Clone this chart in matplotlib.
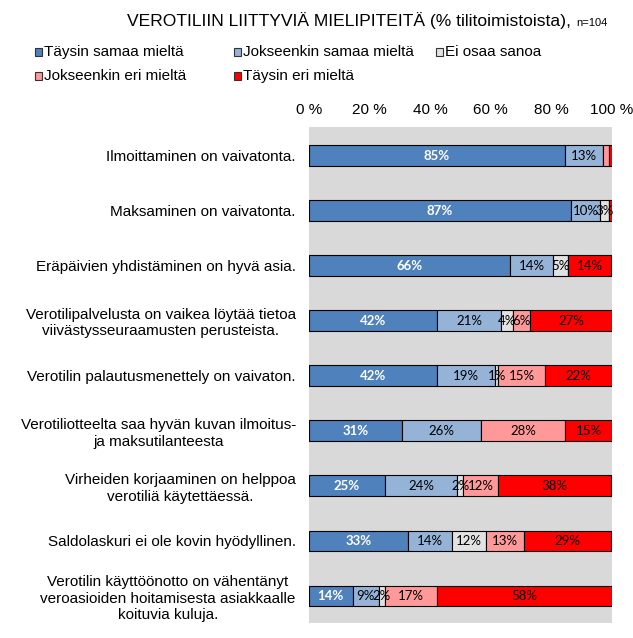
import matplotlib.pyplot as plt
import numpy as np
from matplotlib.patches import Rectangle

# väittämät (ylhäältä alas)
statements = [
    "Ilmoittaminen on vaivatonta.",
    "Maksaminen on vaivatonta.",
    "Eräpäivien yhdistäminen on hyvä asia.",
    "Verotilipalvelusta on vaikea löytää tietoa\nviivästysseuraamusten perusteista.",
    "Verotilin palautusmenettely on vaivaton.",
    "Verotiliotteelta saa hyvän kuvan ilmoitus-\nja maksutilanteesta",
    "Virheiden korjaaminen on helppoa\nverotiliä käytettäessä.",
    "Saldolaskuri ei ole kovin hyödyllinen.",
    "Verotilin käyttöönotto on vähentänyt\nveroasioiden hoitamisesta asiakkaalle\nkoituvia kuluja.",
]

# % tilitoimistoista, n=104
taysin_samaa = [84.6, 86.5, 66.3, 42.3, 42.3, 30.8, 25.0, 32.7, 14.4]
jokseenkin_samaa = [12.5, 9.6, 14.4, 21.2, 19.2, 26.0, 24.0, 14.4, 8.7]
ei_osaa = [0.0, 2.9, 4.8, 3.8, 1.0, 0.0, 1.9, 11.5, 1.9]
jokseenkin_eri = [1.9, 0.0, 0.0, 5.8, 15.4, 27.9, 11.5, 12.5, 17.3]
taysin_eri = [1.0, 1.0, 14.4, 26.9, 22.1, 15.4, 37.5, 28.8, 57.7]

series_names = ["Täysin samaa mieltä", "Jokseenkin samaa mieltä", "Ei osaa sanoa",
                "Jokseenkin eri mieltä", "Täysin eri mieltä"]
colors = ["#4F81BD", "#95B3D7", "#E2E2E2", "#FF9999", "#FF0000"]
x_ticks = [0, 20, 40, 60, 80, 100]
# data labels that are not shown in the original (row, series)
hidden_labels = {(0, 3), (0, 4), (1, 4)}

plt.rcParams["font.family"] = ["Liberation Sans", "DejaVu Sans"]

fig = plt.figure(figsize=(6.33, 6.38), dpi=100)
W, H = 633, 638
ax = fig.add_axes([309 / W, 15 / H, 302.7 / W, 496 / H])
ax.set_facecolor("#D9D9D9")

data = [taysin_samaa, jokseenkin_samaa, ei_osaa, jokseenkin_eri, taysin_eri]
y = np.arange(len(statements))
left = np.zeros(len(statements))
for i, vals in enumerate(data):
    vals = np.array(vals)
    bars = ax.barh(y, vals, left=left, height=0.38, color=colors[i],
                   edgecolor="black", linewidth=0.8, zorder=2)
    for j, b in enumerate(bars):
        v = vals[j]
        if v <= 0 or (j, i) in hidden_labels:
            continue
        ax.text(b.get_x() + b.get_width() / 2, y[j], "%d%%" % int(v + 0.5),
                ha="center", va="center", fontsize=9.5, family="Lato",
                color="white" if i == 0 else "black",
                fontweight="bold" if i == 0 else "normal", zorder=5)
    left += vals

ax.set_xlim(0, 100)
ax.set_ylim(8.49, -0.52)
ax.xaxis.tick_top()
ax.set_xticks(x_ticks)
ax.set_xticklabels(["%d %%" % t for t in x_ticks], fontsize=11)
ax.tick_params(axis="x", length=0, pad=7)
ax.set_yticks(y)
ax.set_yticklabels(statements, fontsize=11, multialignment="center")
ax.tick_params(axis="y", length=0, pad=9.5)
for s in ax.spines.values():
    s.set_visible(False)

# otsikko
fig.text(571 / W, 1 - 26 / H, "VEROTILIIN LIITTYVIÄ MIELIPITEITÄ (% tilitoimistoista),",
         ha="right", va="baseline", fontsize=12.6)
fig.text(576 / W, 1 - 26 / H, "n=104", ha="left", va="baseline", fontsize=8)

# selite
legend_pos = [(35, 52), (234, 52), (436, 52), (35, 76), (234, 76)]
for (lx, ly), name, c in zip(legend_pos, series_names, colors):
    fig.patches.append(Rectangle((lx / W, 1 - (ly + 4) / H), 7 / W, 8 / H,
                                 transform=fig.transFigure, facecolor=c,
                                 edgecolor="#333333", linewidth=0.8))
    fig.text((lx + 9) / W, 1 - ly / H, name, ha="left", va="center", fontsize=11)

fig.savefig("out.png", dpi=100)
